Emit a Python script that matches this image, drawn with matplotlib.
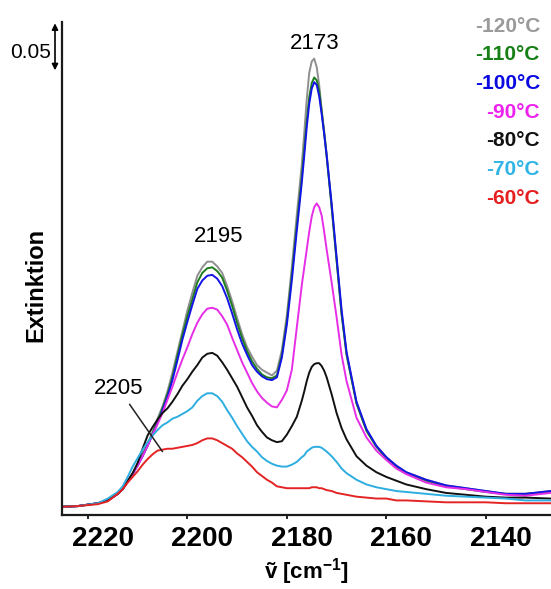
import matplotlib.pyplot as plt
from matplotlib.transforms import ScaledTranslation, blended_transform_factory

plt.rcParams['font.family'] = ['Liberation Sans', 'DejaVu Sans']
plt.rcParams['mathtext.fontset'] = 'custom'
plt.rcParams['mathtext.rm'] = 'Liberation Sans'
plt.rcParams['mathtext.bf'] = 'Liberation Sans:bold'

# Wavenumber grid (cm-1), finer over the two CO bands
wavenumber = [2226, 2222, 2218, 2216, 2214, 2213, 2212, 2211, 2210, 2209,
              2208, 2207, 2206, 2205, 2204, 2203, 2202, 2201, 2200, 2199,
              2198, 2197, 2196, 2195, 2194, 2193, 2192, 2191, 2190, 2189,
              2188, 2187, 2186, 2185, 2184, 2183, 2182, 2181, 2180, 2179,
              2178, 2177, 2176.5, 2176, 2175.5, 2175, 2174.5, 2174, 2173.5, 2173,
              2172.5, 2172, 2171, 2170, 2169, 2168, 2166, 2164, 2162, 2160,
              2158, 2156, 2152, 2148, 2144, 2140, 2136, 2132, 2127]

# Extinction at each temperature
ext_m120 = [0.000, 0.001, 0.004, 0.007, 0.014, 0.019, 0.027, 0.036, 0.046, 0.056,
            0.067, 0.080, 0.094, 0.107, 0.123, 0.143, 0.165, 0.187, 0.209, 0.228,
            0.246, 0.255, 0.261, 0.261, 0.256, 0.249, 0.235, 0.219, 0.201, 0.184,
            0.170, 0.160, 0.151, 0.146, 0.143, 0.140, 0.145, 0.167, 0.204, 0.255,
            0.311, 0.364, 0.398, 0.434, 0.462, 0.474, 0.477, 0.468, 0.449, 0.423,
            0.400, 0.376, 0.320, 0.263, 0.206, 0.163, 0.111, 0.082, 0.065, 0.053,
            0.044, 0.037, 0.029, 0.023, 0.020, 0.017, 0.014, 0.014, 0.017]
ext_m110 = [0.000, 0.001, 0.004, 0.007, 0.014, 0.019, 0.027, 0.035, 0.045, 0.055,
            0.066, 0.078, 0.091, 0.105, 0.120, 0.138, 0.161, 0.183, 0.203, 0.221,
            0.239, 0.249, 0.254, 0.255, 0.251, 0.244, 0.230, 0.214, 0.196, 0.180,
            0.166, 0.155, 0.147, 0.141, 0.138, 0.137, 0.140, 0.162, 0.198, 0.247,
            0.300, 0.351, 0.381, 0.411, 0.436, 0.451, 0.457, 0.454, 0.443, 0.421,
            0.398, 0.373, 0.319, 0.262, 0.205, 0.162, 0.110, 0.081, 0.064, 0.052,
            0.043, 0.036, 0.028, 0.022, 0.019, 0.016, 0.014, 0.014, 0.016]
ext_m100 = [0.000, 0.001, 0.004, 0.007, 0.014, 0.019, 0.027, 0.035, 0.044, 0.054,
            0.065, 0.077, 0.089, 0.103, 0.117, 0.135, 0.156, 0.178, 0.197, 0.215,
            0.232, 0.241, 0.246, 0.247, 0.243, 0.235, 0.222, 0.206, 0.189, 0.174,
            0.162, 0.151, 0.144, 0.139, 0.136, 0.135, 0.138, 0.159, 0.194, 0.241,
            0.294, 0.345, 0.374, 0.404, 0.429, 0.445, 0.452, 0.449, 0.437, 0.418,
            0.397, 0.374, 0.323, 0.266, 0.210, 0.165, 0.112, 0.083, 0.065, 0.053,
            0.044, 0.037, 0.029, 0.023, 0.020, 0.017, 0.014, 0.014, 0.017]
ext_m90 = [0.000, 0.001, 0.004, 0.007, 0.014, 0.019, 0.027, 0.035, 0.044, 0.054,
           0.065, 0.077, 0.088, 0.100, 0.114, 0.128, 0.143, 0.157, 0.170, 0.184,
           0.196, 0.205, 0.211, 0.212, 0.210, 0.203, 0.194, 0.180, 0.167, 0.154,
           0.143, 0.132, 0.123, 0.116, 0.111, 0.107, 0.106, 0.114, 0.124, 0.146,
           0.191, 0.236, 0.255, 0.274, 0.293, 0.309, 0.319, 0.323, 0.319, 0.310,
           0.293, 0.274, 0.239, 0.202, 0.162, 0.134, 0.095, 0.074, 0.060, 0.050,
           0.041, 0.035, 0.026, 0.021, 0.019, 0.016, 0.013, 0.012, 0.015]
ext_m80 = [0.000, 0.001, 0.004, 0.007, 0.014, 0.019, 0.028, 0.036, 0.047, 0.062,
           0.076, 0.085, 0.093, 0.100, 0.105, 0.112, 0.120, 0.129, 0.136, 0.144,
           0.151, 0.159, 0.163, 0.164, 0.161, 0.154, 0.146, 0.137, 0.128, 0.117,
           0.106, 0.097, 0.087, 0.080, 0.074, 0.071, 0.069, 0.070, 0.077, 0.086,
           0.096, 0.113, 0.123, 0.134, 0.143, 0.149, 0.152, 0.153, 0.153, 0.150,
           0.145, 0.138, 0.120, 0.100, 0.084, 0.072, 0.054, 0.044, 0.037, 0.032,
           0.028, 0.024, 0.019, 0.015, 0.013, 0.011, 0.010, 0.010, 0.009]
ext_m70 = [0.000, 0.001, 0.004, 0.009, 0.016, 0.022, 0.032, 0.043, 0.052, 0.061,
           0.069, 0.076, 0.082, 0.087, 0.090, 0.094, 0.096, 0.099, 0.102, 0.106,
           0.113, 0.118, 0.121, 0.121, 0.118, 0.112, 0.103, 0.095, 0.086, 0.078,
           0.070, 0.064, 0.059, 0.053, 0.049, 0.046, 0.044, 0.043, 0.043, 0.045,
           0.048, 0.053, 0.055, 0.059, 0.061, 0.063, 0.064, 0.064, 0.064, 0.063,
           0.061, 0.059, 0.054, 0.048, 0.041, 0.036, 0.029, 0.024, 0.021, 0.019,
           0.017, 0.016, 0.014, 0.012, 0.011, 0.010, 0.009, 0.007, 0.007]
ext_m60 = [0.000, 0.001, 0.003, 0.006, 0.014, 0.019, 0.026, 0.032, 0.038, 0.045,
           0.051, 0.056, 0.060, 0.061, 0.062, 0.062, 0.063, 0.064, 0.065, 0.066,
           0.068, 0.071, 0.073, 0.073, 0.071, 0.068, 0.065, 0.062, 0.057, 0.053,
           0.048, 0.043, 0.037, 0.033, 0.029, 0.026, 0.022, 0.021, 0.020, 0.020,
           0.020, 0.020, 0.020, 0.020, 0.020, 0.021, 0.021, 0.021, 0.020, 0.020,
           0.019, 0.018, 0.017, 0.015, 0.014, 0.013, 0.011, 0.010, 0.009, 0.009,
           0.007, 0.007, 0.006, 0.005, 0.005, 0.005, 0.004, 0.004, 0.004]

spectra = [ext_m120, ext_m110, ext_m100, ext_m90, ext_m80, ext_m70, ext_m60]
temps = ["-120°C", "-110°C", "-100°C", "-90°C", "-80°C", "-70°C", "-60°C"]
line_colors = ["#8f8f8f", "#1e7d1e", "#1414e6", "#e62ee6", "#111111", "#2eaee0", "#e42424"]
text_colors = ["#9a9a9a", "#168016", "#0a0ae0", "#ee22ee", "#111111", "#30b4e6", "#e61e1e"]

xticks = [2220, 2200, 2180, 2160, 2140]
scale_bar = 0.05

fig = plt.figure(figsize=(5.51, 5.89), dpi=100)
ax = fig.add_axes([62 / 551, 74 / 589, 489 / 551, 493 / 589])

for ext, col in zip(spectra, line_colors):
    ax.plot(wavenumber, ext, color=col, lw=1.4, solid_joinstyle="round")

ax.set_xlim(2225.2, 2126.9)
ax.set_ylim(-0.0085, 0.516)

# axes frame: left and bottom only
for side in ["top", "right"]:
    ax.spines[side].set_visible(False)
for side in ["left", "bottom"]:
    ax.spines[side].set_linewidth(1.6)
    ax.spines[side].set_color("#1a1a1a")

ax.set_yticks([])
ax.set_xticks(xticks)
ax.tick_params(axis="x", direction="out", length=3, width=1.2, labelsize=20, pad=5)
shift = ScaledTranslation(15 / 100, 0, fig.dpi_scale_trans)
for lbl in ax.get_xticklabels():
    lbl.set_fontweight("bold")
    lbl.set_transform(lbl.get_transform() + shift)

ax.set_xlabel(r"ṽ [cm$^{\mathbf{-1}}$]", fontsize=16, fontweight="bold", va="center")
ax.xaxis.set_label_coords(0.5, -0.114)
ax.set_ylabel("Extinktion", fontsize=17, fontweight="bold", va="center")
ax.yaxis.set_label_coords(-0.053, 0.4665)

# band positions
ax.text(2174.4, 0.487, "2173", ha="center", va="baseline", fontsize=16)
ax.text(2193.7, 0.282, "2195", ha="center", va="baseline", fontsize=16)
ax.annotate("2205", xy=(2205, ext_m60[13] - 0.002), xytext=(2213.8, 0.120),
            ha="center", va="baseline", fontsize=16,
            arrowprops=dict(arrowstyle="-", color="#222222", lw=1.1,
                            shrinkA=2, shrinkB=0))

# scale bar for extinction
bar_top = 0.5146
ax.annotate("", xy=(55 / 551, bar_top - scale_bar), xytext=(55 / 551, bar_top),
            xycoords=("figure fraction", "data"), textcoords=("figure fraction", "data"),
            arrowprops=dict(arrowstyle="<|-|>", color="black", lw=1.2,
                            mutation_scale=9, shrinkA=0, shrinkB=0))
blend = blended_transform_factory(fig.transFigure, ax.transData)
ax.text(31 / 551, 0.478, f"{scale_bar:.2f}", transform=blend, ha="center",
        va="baseline", fontsize=15, clip_on=False)

# temperature legend
for i, (t, col) in enumerate(zip(temps, text_colors)):
    y_px = 24 + i * 28.7 + 7.5
    fig.text(540 / 551, 1 - y_px / 589, t, color=col, ha="right", va="baseline",
             fontsize=15, fontweight="bold")

fig.savefig("out.png", dpi=100)
